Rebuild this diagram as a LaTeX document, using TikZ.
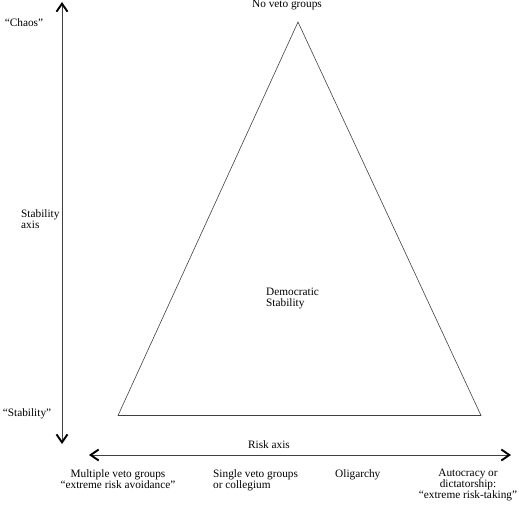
\documentclass[tikz,border=0pt]{standalone}
\usepackage{fontspec}
\setmainfont{Liberation Serif}
\usetikzlibrary{arrows.meta}
\begin{document}
\begin{tikzpicture}[x=1pt,y=-1pt,
  every node/.style={inner sep=0pt,font=\fontsize{11.3}{11}\selectfont},
  line/.style={draw=black!75,line width=0.6pt},
  tip/.tip={Straight Barb[length=8pt,width=11pt,line width=1.9pt,color=black]},
  axis/.style={line,tip-tip}]
\useasboundingbox (0,0) rectangle (519,507);
% triangle
\coordinate (apex) at (298,22);
\coordinate (bl) at (118,415.5);
\coordinate (br) at (481,415.5);
\draw[line] (apex) -- (bl) -- (br) -- cycle;
% axes
\coordinate (vtop) at (62,2);
\coordinate (vbot) at (62,444);
\draw[axis] (vtop) -- (vbot);
\coordinate (hl) at (89,455);
\coordinate (hr) at (511,455);
\draw[axis] (hl) -- (hr);
% labels
\node (chaos) at (24,23) {``Chaos''};
\node (stab) at (27,414) {``Stability''};
\node[anchor=west,align=left] (saxis) at (21,219) {Stability\\axis};
\node (noveto) at (287,5) {No veto groups};
\node[anchor=west,align=left] (demo) at (266,298) {Democratic\\Stability};
\node (risk) at (269,445) {Risk axis};
\node[anchor=north,align=center] (multi) at (118,469) {Multiple veto groups\\``extreme risk avoidance''};
\node[anchor=north west,align=left] (single) at (213,469) {Single veto groups\\or collegium};
\node[anchor=north west] (olig) at (335,469) {Oligarchy};
\node[anchor=north,align=center] (auto) at (468,469) {Autocracy or\\dictatorship:\\``extreme risk-taking''};
\end{tikzpicture}
\end{document}
